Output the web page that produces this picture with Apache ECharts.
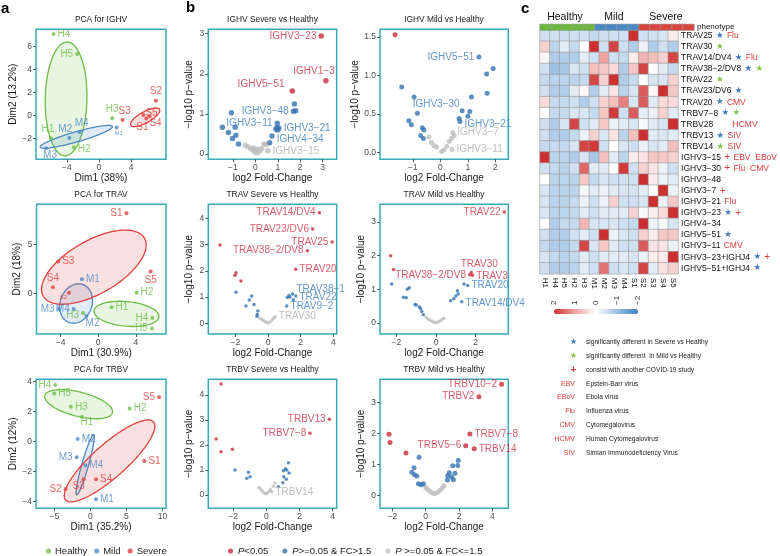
<!DOCTYPE html>
<html><head><meta charset="utf-8">
<script src="https://cdn.jsdelivr.net/npm/echarts@6/dist/echarts.min.js"></script>
<style>html,body{margin:0;padding:0;background:#fff}#c{width:780px;height:556px}</style>
</head><body><div id="c"></div>
<script>
// ---------------- DATA ----------------
const pcaNames = ['H1','H2','H3','H4','H5','M1','M2','M3','M4','S1','S2','S3','S4','S5'];
const ighvDim1 = [-6.0,-3.14,1.64,-5.66,-2.72, 2.19,-3.7,-6.6,-2.4, 5.9,7.09,2.94,6.3,5.54];
const ighvDim2 = [-1.97,-2.75,-0.23,7.1,5.36, -1.04,-1.95,-2.85,-1.45, -0.25,1.3,-0.38,-0.05,0.06];
const travDim1 = [1.42,4.08,-1.6,5.75,5.7, -1.73,-1.24,-4.2,-2.6, 3.0,-3.1,-4.25,-4.8,5.57];
const travDim2 = [-1.39,0.1,-1.96,-2.47,-3.55, 1.48,-2.27,-1.56,-1.55, 8.2,0.1,3.27,0.67,2.26];
const trbvDim1 = [-1.16,5.46,-2.7,-4.86,-5.0, 0.79,-1.76,-1.9,-0.69, 7.5,-3.43,-0.93,0.79,9.54];
const trbvDim2 = [1.67,2.22,2.33,3.78,3.22, -3.84,0.18,-1.04,-1.58, -1.29,-3.15,-2.51,-2.51,2.96];
// ellipses: [cx, cy, ux, uy, vx, vy]  (centre and two semi-axis vectors, data units)
const ellIGHV_H = [-4.1,1.45, 0.15,4.95, 2.6,-0.05];
const ellIGHV_M = [-2.83,-1.85, 4.5,0.9, 0.175,-0.42];
const ellIGHV_S = [5.75,-0.15, 1.8,0.7, 0.34,-0.42];
const ellTRAV_H = [3.0,-2.05, 3.45,-0.3, 0.1,1.25];
const ellTRAV_M = [-2.35,-1.0, 0.4,2.0, 1.7,-0.15];
const ellTRAV_S = [-0.46,2.7, 5.37,2.96, 1.42,-2.34];
const ellTRBV_H = [-1.62,2.5, 4.7,-0.55, 0.3,0.8];
const ellTRBV_M = [-0.72,-1.55, 1.18,2.0, 0.45,-0.06];
const ellTRBV_S = [2.67,-1.28, 6.1,2.6, 1.54,-0.83];

// volcano: [log2FC, -log10 p, class(r: P<0.05, b: FC>1.5, g: FC<=1.5), gene label]
const volIGHVSev = [
 [2.94,2.94,'r','IGHV3-23'],[3.15,1.83,'r','IGHV1-3'],[1.65,1.57,'r','IGHV5-51'],
 [1.74,1.25,'b',''],[1.7,1.07,'b','IGHV3-48'],[1.8,1.08,'b',''],[-1.07,1.03,'b',''],[-1.47,0.67,'b',''],[-1.2,0.54,'b',''],[-0.9,0.67,'b',''],[-0.87,0.47,'b',''],[-1.02,0.39,'b',''],[-0.75,0.25,'b',''],[0.98,0.77,'b','IGHV3-11'],[0.96,0.66,'b',''],[1.0,0.6,'b',''],[1.05,0.65,'b','IGHV3-21'],[0.92,0.62,'b',''],[0.74,0.45,'b','IGHV4-34'],[0.64,0.28,'b',''],
 [-0.45,0.22,'g',''],[-0.33,0.18,'g',''],[-0.22,0.14,'g',''],[-0.12,0.1,'g',''],[-0.02,0.05,'g',''],[0.08,0.03,'g',''],[0.18,0.07,'g',''],[0.28,0.13,'g',''],[0.38,0.25,'g',''],[0.47,0.24,'g',''],[0.55,0.08,'g','IGHV3-15'],[0.1,0.12,'g',''],[-0.08,0.16,'g','']
];
const volIGHVMild = [
 [-1.65,1.53,'r',''],
 [-1.41,0.85,'b',''],[-0.96,0.72,'b',''],[-0.84,0.51,'b',''],[-1.15,0.41,'b',''],[-1.06,0.36,'b',''],[-0.66,0.32,'b',''],[-0.6,0.29,'b',''],[-0.72,0.22,'b',''],[-0.62,0.18,'b',''],
 [-0.42,0.2,'g',''],[-0.33,0.13,'g',''],[-0.24,0.09,'g',''],[-0.14,0.07,'g',''],[0.04,0.01,'g',''],[0.13,0.03,'g',''],[0.23,0.08,'g',''],[0.32,0.14,'g',''],[0.4,0.18,'g',''],[0.45,0.26,'g','IGHV3-7'],[0.42,0.04,'g','IGHV3-11'],[0.5,0.22,'g',''],
 [1.4,1.24,'b','IGHV5-51'],[1.92,1.09,'b',''],[1.68,1.02,'b',''],[1.7,0.77,'b',''],[1.13,0.72,'b',''],[1.07,0.53,'b',''],[1.0,0.47,'b',''],[0.79,0.54,'b','IGHV3-30'],[0.68,0.44,'b',''],[0.71,0.4,'b','IGHV3-21']
];
const volTRAVSev = [
 [-2.94,2.99,'r',''],[-1.96,1.93,'r',''],[-2.02,1.83,'r',''],[-1.66,1.61,'r',''],[1.7,2.06,'r','TRAV20'],[2.41,2.77,'r','TRAV38-2/DV8'],[3.15,4.22,'r','TRAV14/DV4'],[2.74,3.6,'r','TRAV23/DV6'],[3.93,3.1,'r','TRAV25'],
 [-1.96,1.18,'b',''],[-1.0,1.04,'b',''],[-1.15,0.89,'b',''],[-1.35,0.66,'b',''],[-0.86,0.72,'b',''],[-0.62,0.47,'b',''],[-0.66,0.33,'b',''],[-0.68,0.27,'b',''],
 [-0.5,0.2,'g',''],[-0.4,0.15,'g',''],[-0.3,0.11,'g',''],[-0.2,0.07,'g',''],[-0.1,0.04,'g',''],[0.0,0.02,'g',''],[0.12,0.05,'g',''],[0.25,0.12,'g',''],[0.35,0.19,'g',''],[0.43,0.25,'g','TRAV30'],
 [1.18,0.98,'b',''],[1.35,1.0,'b',''],[1.51,1.12,'b','TRAV38-1'],[1.7,1.04,'b','TRAV22'],[1.55,0.9,'b',''],[1.28,1.06,'b',''],[1.15,0.66,'b','TRAV9-2']
];
const volTRAVMild = [
 [-2.29,2.0,'r',''],[-2.15,1.59,'r',''],[3.45,3.3,'r','TRAV22'],[1.78,1.5,'r','TRAV30'],[1.84,1.42,'r','TRAV3'],[1.7,1.43,'r','TRAV38-2/DV8'],
 [-2.24,1.16,'b',''],[-1.45,1.0,'b',''],[-1.35,1.05,'b',''],[-1.65,0.76,'b',''],[-1.5,0.75,'b',''],[-1.06,0.55,'b',''],[-1.0,0.53,'b',''],[-0.84,0.47,'b',''],[-0.78,0.43,'b',''],[-0.72,0.34,'b',''],[-0.64,0.24,'b',''],
 [-0.5,0.17,'g',''],[-0.4,0.12,'g',''],[-0.3,0.08,'g',''],[-0.2,0.05,'g',''],[-0.1,0.02,'g',''],[0.0,0.01,'g',''],[0.1,0.03,'g',''],[0.2,0.06,'g',''],[0.3,0.1,'g',''],[0.4,0.14,'g',''],
 [0.74,0.66,'b',''],[0.9,0.72,'b',''],[1.0,0.8,'b',''],[1.08,0.96,'b',''],[1.41,1.16,'b',''],[1.6,1.11,'b','TRAV20'],[1.3,0.63,'b','TRAV14/DV4'],[1.12,0.86,'b','']
];
const volTRBVSev = [
 [-2.73,4.44,'r',''],[-3.03,2.24,'r',''],[-2.73,1.73,'r',''],[-2.05,1.83,'r',''],[3.8,3.03,'r','TRBV13'],[2.63,2.47,'r','TRBV7-8'],
 [-1.89,1.0,'b',''],[-1.08,0.91,'b',''],[-0.98,0.73,'b',''],[-1.18,0.67,'b',''],
 [-0.45,0.3,'g',''],[-0.35,0.24,'g',''],[-0.25,0.16,'g',''],[-0.15,0.09,'g',''],[-0.05,0.05,'g',''],[0.05,0.07,'g',''],[0.15,0.14,'g',''],[0.25,0.22,'g',''],[0.32,0.13,'g','TRBV14'],[0.42,0.35,'g',''],[0.52,0.48,'g',''],
 [1.33,1.29,'b',''],[1.23,1.0,'b',''],[1.03,0.97,'b',''],[1.37,0.88,'b',''],[1.05,0.73,'b',''],[1.2,0.63,'b',''],[0.99,0.49,'b',''],[0.72,0.33,'b',''],[1.15,1.05,'b','']
];
const volTRBVMild = [
 [-2.2,1.98,'r',''],[-2.14,1.71,'r',''],[-1.18,1.37,'r',''],[4.55,3.59,'r','TRBV10-2'],[3.19,3.19,'r','TRBV2'],[2.65,1.99,'r','TRBV7-8'],[2.91,1.51,'r','TRBV14'],[2.4,1.61,'r','TRBV5-6'],
 [-0.4,1.24,'b',''],[-0.7,0.9,'b',''],[-0.83,0.75,'b',''],[-0.67,0.67,'b',''],[-0.53,0.63,'b',''],[-0.44,0.38,'b',''],[-0.28,0.35,'b',''],[-0.14,0.38,'b',''],
 [0.0,0.26,'g',''],[0.12,0.2,'g',''],[0.25,0.14,'g',''],[0.4,0.08,'g',''],[0.55,0.06,'g',''],[0.7,0.1,'g',''],[0.85,0.17,'g',''],[1.0,0.25,'g',''],[1.1,0.32,'g',''],
 [1.95,1.13,'b',''],[1.62,0.96,'b',''],[1.41,0.74,'b',''],[1.32,0.64,'b',''],[1.56,0.6,'b',''],[1.66,0.51,'b',''],[1.3,0.5,'b',''],[1.92,0.97,'b',''],[1.75,0.72,'b','']
];

// heatmap
const heatCols = ['H1','H4','H5','H2','H3','M1','M2','M3','M4','S1','S2','S3','S4','S5'];
const heatPhenotype = ['Healthy','Healthy','Healthy','Healthy','Healthy','Mild','Mild','Mild','Mild','Severe','Severe','Severe','Severe','Severe'];
const heatRows = ['TRAV25','TRAV30','TRAV14/DV4','TRAV38-2/DV8','TRAV22','TRAV23/DV6','TRAV20','TRBV7-8','TRBV28','TRBV13','TRBV14',
 'IGHV3-15','IGHV3-30','IGHV3-48','IGHV3-7','IGHV3-21','IGHV3-23','IGHV4-34','IGHV5-51','IGHV3-11','IGHV3-23+IGHJ4','IGHV5-51+IGHJ4'];
const rowSevereSig = [1,0,1,1,0,1,1,1,0,1,0, 0,0,0,0,0,1,0,1,0,1,1];
const rowMildSig   = [0,1,0,1,1,0,0,1,0,0,1, 0,0,0,0,0,0,0,0,0,0,0];
const rowOtherStudy= [0,0,0,0,0,0,0,0,0,0,0, 1,1,0,1,0,1,0,0,0,1,0];
const rowVirus = ['Flu','','Flu','','','','CMV','','HCMV','SIV','SIV','EBV  EBoV','Flu  CMV','','','Flu','','','','CMV','',''];
const heatZ = [
 [-0.5,-0.5,-0.5,-0.5,-0.5,-0.6,-0.5,-0.5,-0.5,2.5,-0.5,-0.5,-0.4,0.2],
 [0.5,-0.7,-0.3,-0.6,0.0,2.0,-0.5,1.8,-0.5,-0.8,-0.2,-0.8,-0.5,-0.8],
 [0.1,-0.8,-0.8,-0.8,-0.3,-0.5,1.0,-0.5,-0.6,0.2,0.8,0.7,0.5,1.8],
 [-0.5,-1.0,-0.9,-0.4,-0.5,0.7,0.6,0.4,-0.8,0.6,1.8,0.0,-0.3,-0.6],
 [-0.6,-0.7,-0.7,-0.7,-0.6,1.8,0.5,2.0,-0.8,-0.6,0.0,-0.4,-0.4,0.5],
 [-0.5,-0.8,-0.8,-0.3,0.1,-0.8,-0.3,0.3,-0.7,-0.4,1.6,0.1,2.0,0.6],
 [0.4,-0.6,-0.6,-0.5,-0.8,-0.5,0.5,0.7,1.3,-0.4,1.6,-0.3,0.4,0.4],
 [0.0,-0.6,-0.6,-0.4,-0.4,-0.6,0.6,1.9,-0.5,1.6,-0.3,-0.2,0.5,-0.3],
 [-0.5,-0.8,-0.4,1.8,-0.5,-0.3,0.6,-0.2,-0.3,-0.4,-0.1,-0.3,-0.4,2.0],
 [-0.5,-0.8,-0.8,-0.6,-0.2,0.5,-0.4,0.3,-0.7,0.7,2.0,-0.3,-0.4,-0.3],
 [-0.6,-0.6,-0.6,-0.4,1.8,1.9,-0.5,0.0,-0.4,-0.5,-0.2,-0.4,-0.3,0.7],
 [2.0,-0.7,-0.7,-0.8,-0.4,-0.9,0.7,-0.3,-0.7,0.2,0.3,0.6,0.6,0.5],
 [-0.5,-0.6,-0.7,-0.5,1.5,-0.3,-0.3,0.0,1.9,-0.5,0.5,0.3,-0.2,-0.5],
 [0.0,-0.7,-0.7,-0.7,0.6,-0.6,-0.4,-0.5,-0.5,-0.5,2.0,0.2,-0.2,-0.3],
 [-0.4,-0.7,-0.7,-0.7,-0.1,-0.3,-0.2,-0.3,-0.4,-0.4,-0.3,0.0,2.0,-0.2],
 [-0.4,-0.7,-0.7,-0.6,-0.2,-0.5,-0.2,0.5,-0.5,-0.5,-0.4,2.0,-0.2,0.6],
 [-0.4,-0.7,-0.7,-0.6,-0.3,-0.5,-0.3,-0.3,-0.3,0.5,-0.1,0.2,0.4,2.0],
 [0.0,-0.8,-0.6,-0.6,0.8,-0.4,-0.4,-0.4,-0.5,-0.6,2.0,-0.2,-0.1,-0.4],
 [-0.5,-0.8,-0.8,-0.5,-0.3,-0.5,2.0,-0.2,-0.4,-0.5,0.5,0.2,0.6,0.6],
 [-0.6,-0.8,-0.8,-0.6,1.8,-0.4,0.6,-0.3,-0.5,-0.5,1.6,0.3,0.3,-0.2],
 [-0.4,-0.6,-0.7,-0.6,-0.3,-0.5,-0.3,-0.3,-0.3,-0.4,-0.2,0.2,0.2,2.0],
 [-0.5,-0.8,-0.8,-0.7,-0.3,-0.5,1.4,-0.5,-0.4,-0.5,1.8,-0.3,0.3,0.5]
];
const colorbarTicks = [2,1,0,-1,-2];
const annotSymbols = ['\u2605','\u2605','+','EBV','EBoV','Flu','CMV','HCMV','SIV'];
const annotTexts = ['significantly different in Severe vs Healthy','significantly different  in Mild vs Healthy','consist with another COVID-19 study',
 'Epstein-Barr virus','Ebola virus','Influenza virus','Cytomegalovirus','Human Cytomegalovirus','Simian Immunodeficiency Virus'];

// tick labels
const ticksPcaIGHVx = [-4,0,4], ticksPcaIGHVy = [-2,0,2,4,6];
const ticksPcaTRAVx = [-4,0,4], ticksPcaTRAVy = [0,5];
const ticksPcaTRBVx = [-5,0,5,10], ticksPcaTRBVy = [-4,-2,0,2,4];
const ticksVolIGHVSevX = [-1,0,1,2,3], ticksVolIGHVSevY = [0,1,2,3];
const ticksVolIGHVMildX = [-1,0,1,2], ticksVolIGHVMildY = [0,0.5,1,1.5];
const ticksVolTRAVSevX = [-2,0,2,4], ticksVolTRAVSevY = [0,1,2,3,4];
const ticksVolTRAVMildX = [-2,0,2], ticksVolTRAVMildY = [0,1,2,3];
const ticksVolTRBVSevX = [-2,0,2,4], ticksVolTRBVSevY = [0,1,2,3,4];
const ticksVolTRBVMildX = [-2,0,2,4], ticksVolTRBVMildY = [0,1,2,3];

// ---------------- STYLE ----------------
const FONT = "'Liberation Sans', Arial, Helvetica, sans-serif";
const C = {h:'#6DBE45', m:'#4C8AC6', s:'#E0413F', red:'#C92B3B', blue:'#3574B2', gray:'#BDBDBD',
  redT:'#CC3346', blueT:'#3A7DBA', grayT:'#AEAEAE', frame:'#36AAB8', tick:'#4D4D4D'};
const MINUS = s => String(s).replace(/-/g,'\u2212');
function rgba(hex,a){const n=parseInt(hex.slice(1),16);return `rgba(${n>>16},${(n>>8)&255},${n&255},${a})`;}

const pcaLabelPos = {
 ighv:{H4:['right',0,0],H5:['left',0,0],H3:['top',0,0],H1:['top',-3,0],H2:['right',0,2],M2:['top',-4,0],M4:['top',2,0],M1:['bottom',2,-1],M3:['bottom',4,-2],S2:['top',0,0],S3:['top',2,0],S5:['right',-2,-2],S4:['bottom',6,-2],S1:['bottom',-4,0]},
 trav:{S1:['left',0,0],S3:['right',0,0],S4:['top',0,0],S5:['bottom',0,0],S2:['left',2,5],M1:['right',0,0],M3:['left',0,0],M4:['left',0,0],H3:['left',0,2],M2:['bottom',6,-2],H1:['right',0,0],H2:['right',0,0],H4:['left',0,0],H5:['left',0,0]},
 trbv:{H4:['left',0,0],H5:['right',0,0],H3:['right',0,0],H1:['bottom',5,-3],H2:['right',0,0],S5:['left',0,0],S1:['right',0,0],M2:['right',0,0],M3:['left',0,0],M4:['right',0,0],S3:['bottom',-5,-2],S4:['right',0,0],S2:['left',0,0],M1:['right',0,0]}
};
const pcaSmallLabels = {ighv:{M1:6}, trav:{S2:6}, trbv:{}};
const volLabelPos = {
 ighvSev:{'IGHV3-23':['left',0,0],'IGHV1-3':['top',-12,0],'IGHV5-51':['left',-3,-7],'IGHV3-48':['left',0,0],'IGHV3-11':['left',0,0],'IGHV3-21':['right',0,0],'IGHV4-34':['right',0,3],'IGHV3-15':['right',0,0]},
 ighvMild:{'IGHV5-51':['left',0,0],'IGHV3-30':['left',2,-7],'IGHV3-21':['right',0,3],'IGHV3-7':['right',0,0],'IGHV3-11':['right',0,0]},
 travSev:{'TRAV14/DV4':['left',0,0],'TRAV23/DV6':['left',0,0],'TRAV25':['left',0,0],'TRAV38-2/DV8':['left',0,0],'TRAV20':['right',0,0],'TRAV38-1':['right',0,-5],'TRAV22':['right',0,1],'TRAV9-2':['right',0,0],'TRAV30':['right',0,0]},
 travMild:{'TRAV22':['left',0,0],'TRAV30':['top',8,0],'TRAV3':['right',0,1],'TRAV38-2/DV8':['left',0,0],'TRAV20':['right',0,0],'TRAV14/DV4':['right',0,2]},
 trbvSev:{'TRBV13':['left',0,0],'TRBV7-8':['left',0,0],'TRBV14':['right',0,0]},
 trbvMild:{'TRBV10-2':['left',0,0],'TRBV2':['left',0,0],'TRBV7-8':['right',0,0],'TRBV14':['right',0,0],'TRBV5-6':['left',0,0]}
};

// ---------------- BUILD ----------------
const grids = [
 {left:36, top:29.3, width:130, height:130},
 {left:36.5, top:204.3, width:129.5, height:129.7},
 {left:36, top:379.3, width:130, height:129},
 {left:208.3, top:29.3, width:128.4, height:130},
 {left:380, top:29.3, width:128.3, height:130},
 {left:208.3, top:204.3, width:128.4, height:129.7},
 {left:380, top:204.3, width:128.3, height:129.7},
 {left:208.3, top:379.3, width:128.4, height:129},
 {left:380, top:379.3, width:128.3, height:129},
 {left:540, top:30.2, width:154, height:243.6},
 {left:540, top:24.3, width:154, height:5.9},
 {left:554, top:307, width:84, height:1}
].map((g,i)=> i<9 ? Object.assign({show:true, borderColor:C.frame, borderWidth:1.5, backgroundColor:'rgba(0,0,0,0)'}, g) : g);

function valAxis(gi, min, max, ticks, name, isY, fmt){
  fmt = fmt || (v=>MINUS(v));
  return {type:'value', gridIndex:gi, min, max, scale:true,
    name, nameLocation:'middle', nameGap: isY?14:12.5, nameRotate: isY?90:0,
    nameTextStyle:{fontSize:10, color:'#1a1a1a', fontFamily:FONT},
    axisLine:{show:false, onZero:false}, splitLine:{show:false},
    axisTick:{show:true, length:3, customValues:ticks, lineStyle:{color:'#333', width:0.8}},
    axisLabel:{show:true, customValues:ticks, formatter:fmt, fontSize:8.5, color:C.tick, margin:4, fontFamily:FONT}};
}
const xAxes = [
 valAxis(0,-7.85,8.35,ticksPcaIGHVx,'Dim1 (38%)',false),
 valAxis(1,-6.55,7.2,ticksPcaTRAVx,'Dim1 (30.9%)',false),
 valAxis(2,-7.54,10.5,ticksPcaTRBVx,'Dim1 (35.2%)',false),
 valAxis(3,-2.1,3.63,ticksVolIGHVSevX,'log2 Fold-Change',false),
 valAxis(4,-2.2,2.47,ticksVolIGHVMildX,'log2 Fold-Change',false),
 valAxis(5,-3.66,4.21,ticksVolTRAVSevX,'log2 Fold-Change',false),
 valAxis(6,-2.83,3.65,ticksVolTRAVMildX,'log2 Fold-Change',false),
 valAxis(7,-3.5,4.24,ticksVolTRBVSevX,'log2 Fold-Change',false),
 valAxis(8,-2.74,4.95,ticksVolTRBVMildX,'log2 Fold-Change',false),
 {type:'category', gridIndex:9, data:heatCols, position:'bottom', axisLine:{show:false}, axisTick:{show:false}, splitLine:{show:false},
  axisLabel:{rotate:-90, fontSize:8, color:'#111', margin:4, interval:0, fontFamily:FONT}},
 {type:'category', gridIndex:10, data:heatCols, show:false},
 {type:'value', gridIndex:11, min:-2, max:2, inverse:true, position:'top', axisLine:{show:false}, splitLine:{show:false}, axisTick:{show:false},
  axisLabel:{customValues:colorbarTicks, rotate:90, fontSize:8, color:'#333', margin:2, formatter:v=>MINUS(v), fontFamily:FONT}}
];
const yname = '-log10 p-value';
const yAxes = [
 valAxis(0,-3.8,7.5,ticksPcaIGHVy,'Dim2 (13.2%)',true),
 valAxis(1,-4.1,9.1,ticksPcaTRAVy,'Dim2 (18%)',true),
 valAxis(2,-4.44,4.16,ticksPcaTRBVy,'Dim2 (12%)',true),
 valAxis(3,-0.13,3.11,ticksVolIGHVSevY,MINUS(yname),true),
 valAxis(4,-0.09,1.6,ticksVolIGHVMildY,MINUS(yname),true,v=>v.toFixed(1)),
 valAxis(5,-0.41,4.54,ticksVolTRAVSevY,MINUS(yname),true),
 valAxis(6,-0.33,3.53,ticksVolTRAVMildY,MINUS(yname),true),
 valAxis(7,-0.53,4.63,ticksVolTRBVSevY,MINUS(yname),true),
 valAxis(8,-0.41,3.75,ticksVolTRBVMildY,MINUS(yname),true),
 {type:'category', gridIndex:9, data:heatRows, inverse:true, position:'right', axisLine:{show:false}, axisTick:{show:false}, splitLine:{show:false},
  axisLabel:{interval:0, margin:3, fontFamily:FONT,
   formatter:(val,idx)=>{
     const parts=[];
     if(rowSevereSig[idx]) parts.push('{bs|\u2605}');
     if(rowMildSig[idx]) parts.push('{gs|\u2605}');
     if(rowOtherStudy[idx]) parts.push('{p|+}');
     if(rowVirus[idx]) parts.push((parts.length===0 && val==='TRBV28') ? '{vp|'+rowVirus[idx]+'}' : '{v|'+rowVirus[idx]+'}');
     return '{n|'+MINUS(val)+'}' + (parts.length? ' '+parts.join(' ') : '');
   },
   rich:{n:{fontSize:8.5,color:'#111',fontFamily:FONT}, bs:{fontSize:8.5,color:'#3A78C0',fontFamily:'DejaVu Sans'},
     gs:{fontSize:8.5,color:'#86C440',fontFamily:'DejaVu Sans'}, p:{fontSize:10,color:'#D8403F',fontFamily:FONT},
     v:{fontSize:8.5,color:'#D8403F',fontFamily:FONT}, vp:{fontSize:8.5,color:'#D8403F',fontFamily:FONT,padding:[0,0,0,16]}}}},
 {type:'category', gridIndex:10, data:['phenotype'], position:'right', axisLine:{show:false}, axisTick:{show:false},
  axisLabel:{fontSize:8, color:'#111', margin:3, fontFamily:FONT}},
 {type:'value', gridIndex:11, show:false}
];

const series = [];
function ellipseSeries(gi, par, color){
  return {type:'custom', name:'ellipse', xAxisIndex:gi, yAxisIndex:gi, silent:true, z:1, data:[par],
    encode:{x:0,y:1},
    renderItem(params, api){
      const cx=api.value(0), cy=api.value(1), ux=api.value(2), uy=api.value(3), vx=api.value(4), vy=api.value(5);
      const pts=[];
      for(let i=0;i<96;i++){const t=i/96*2*Math.PI; pts.push(api.coord([cx+ux*Math.cos(t)+vx*Math.sin(t), cy+uy*Math.cos(t)+vy*Math.sin(t)]));}
      return {type:'polygon', shape:{points:pts}, style:{fill:rgba(color,0.16), stroke:color, lineWidth:1.3}};
    }};
}
function pcaPlot(gi, key, d1, d2, ells){
  const groups=[['Healthy','H',C.h],['Mild','M',C.m],['Severe','S',C.s]];
  groups.forEach(([g,l,col],k)=>series.push(ellipseSeries(gi, ells[k], col)));
  groups.forEach(([g,l,col])=>{
    const data=[];
    pcaNames.forEach((nm,i)=>{
      if(nm[0]!==l) return;
      const p=pcaLabelPos[key][nm]||['right',0,0];
      data.push({value:[d1[i],d2[i]], name:nm, label:{show:true, formatter:nm, position:p[0], offset:[p[1],p[2]], distance:2,
        color:col, fontSize:pcaSmallLabels[key][nm]||10, fontFamily:FONT}});
    });
    series.push({type:'scatter', name:g, xAxisIndex:gi, yAxisIndex:gi, symbolSize:4, z:3, itemStyle:{color:col}, data});
  });
}
pcaPlot(0,'ighv',ighvDim1,ighvDim2,[ellIGHV_H,ellIGHV_M,ellIGHV_S]);
pcaPlot(1,'trav',travDim1,travDim2,[ellTRAV_H,ellTRAV_M,ellTRAV_S]);
pcaPlot(2,'trbv',trbvDim1,trbvDim2,[ellTRBV_H,ellTRBV_M,ellTRBV_S]);

const volClasses = [['g','P >=0.05 & FC<=1.5',C.gray,C.grayT],['b','P>=0.05 & FC>1.5',C.blue,C.blueT],['r','P<0.05',C.red,C.redT]];
function volPlot(gi, key, data, size){
  volClasses.forEach(([cls,name,col,tcol])=>{
    series.push({type:'scatter', name, xAxisIndex:gi, yAxisIndex:gi, symbolSize:size, z:3, itemStyle:{color:col},
      data:data.filter(d=>d[2]===cls).map(d=>{
        const item={value:[d[0],d[1]]};
        if(d[3]){const p=volLabelPos[key][d[3]]||['right',0,0];
          item.label={show:true, formatter:MINUS(d[3]), position:p[0], offset:[p[1],p[2]], distance:2, color:tcol, fontSize:10, fontFamily:FONT};}
        return item;
      })});
  });
}
volPlot(3,'ighvSev',volIGHVSev,5.5);
volPlot(4,'ighvMild',volIGHVMild,5);
volPlot(5,'travSev',volTRAVSev,3.5);
volPlot(6,'travMild',volTRAVMild,3.5);
volPlot(7,'trbvSev',volTRBVSev,3.5);
volPlot(8,'trbvMild',volTRBVMild,5);

const heatData=[];
heatZ.forEach((row,r)=>row.forEach((v,c)=>heatData.push([c,r,v])));
const heatIdx = series.length;
series.push({type:'heatmap', name:'z-score', xAxisIndex:9, yAxisIndex:9, data:heatData,
  itemStyle:{borderColor:'#9a9a9a', borderWidth:0.6}, emphasis:{disabled:true}});
const phenoColor = {Healthy:'#6BB83F', Mild:'#4A88C4', Severe:'#D9453D'};
series.push({type:'heatmap', name:'phenotype', xAxisIndex:10, yAxisIndex:10,
  data:heatPhenotype.map((p,i)=>({value:[i,0,0], itemStyle:{color:phenoColor[p]}})),
  itemStyle:{borderColor:'#9a9a9a', borderWidth:0.6}, emphasis:{disabled:true}});
series.push({type:'scatter', xAxisIndex:11, yAxisIndex:11, data:[], silent:true});

const titleStyle = {fontSize:8.4, fontWeight:'normal', color:'#1a1a1a', fontFamily:FONT};
const titles = [
 ['PCA for IGHV',101,16],['PCA for TRAV',101,191],['PCA for TRBV',101,366],
 ['IGHV Severe vs Healthy',272.5,16],['IGHV Mild vs Healthy',444,16],
 ['TRAV Severe vs Healthy',272.5,191],['TRAV Mild vs Healthy',444,191],
 ['TRBV Severe vs Healthy',272.5,366],['TRBV Mild vs Healthy',444,366]
].map(([t,x,y])=>({text:t, left:x, top:y, textAlign:'center', padding:0, textStyle:titleStyle}));

const graphics = [];
[['a',1,1],['b',186,0],['c',521,1]].forEach(([t,x,y])=>graphics.push({type:'text', left:x, top:y,
  style:{text:t, font:`bold 15px ${FONT}`, fill:'#000'}}));
[['Healthy',565],['Mild',614],['Severe',666]].forEach(([t,x])=>graphics.push({type:'text', x, y:17,
  style:{text:t, font:`10.5px ${FONT}`, fill:'#111', textAlign:'center', textVerticalAlign:'middle'}}));
const annotColors = ['#3A78C0','#86C440','#D8403F','#D8403F','#D8403F','#D8403F','#D8403F','#D8403F','#D8403F'];
annotSymbols.forEach((s,i)=>{
  const y = 342.3 + 13.8*i;
  const isSym = i<3;
  graphics.push({type:'text', x: isSym?573.5:575, y,
    style:{text:s, font: isSym ? (i===2 ? `bold 10px ${FONT}` : `8px 'DejaVu Sans'`) : `7px ${FONT}`, fill:annotColors[i], textAlign: isSym?'center':'right', textVerticalAlign:'middle'}});
  graphics.push({type:'text', x:586, y, style:{text:annotTexts[i], font:`6.6px ${FONT}`, fill:'#222', textAlign:'left', textVerticalAlign:'middle'}});
});

const option = {
  animation:false, backgroundColor:'#fff',
  textStyle:{fontFamily:FONT},
  title:titles, grid:grids, xAxis:xAxes, yAxis:yAxes, series, graphic:graphics,
  legend:[
    {data:['Healthy','Mild','Severe'], left:46, top:546, itemWidth:5, itemHeight:5, itemGap:7, icon:'circle', padding:0,
     textStyle:{fontSize:9.5, color:'#1a1a1a', fontFamily:FONT, padding:[0,0,0,-1]}},
    {data:['P<0.05','P>=0.05 & FC>1.5','P >=0.05 & FC<=1.5'], left:228, top:546, itemWidth:5, itemHeight:5, itemGap:14, icon:'circle', padding:0,
     formatter:n=>'{i|P}'+n.slice(1),
     textStyle:{fontSize:9.5, color:'#1a1a1a', fontFamily:FONT, rich:{i:{fontStyle:'italic', fontSize:9.5, fontFamily:FONT}}}}
  ],
  visualMap:{type:'continuous', seriesIndex:heatIdx, min:-2, max:2, orient:'horizontal', inverse:true,
    left:554, top:309, itemWidth:5, itemHeight:84, padding:0, calculable:false, hoverLink:false,
    inRange:{color:['#3F7FC1','#9DC1E3','#FFFFFF','#EFA3A0','#CC2F2F']}, textStyle:{fontSize:1}, text:null, realtime:false}
};
const chart = echarts.init(document.getElementById('c'), null, {renderer:'canvas'});
chart.setOption(option);
</script></body></html>
